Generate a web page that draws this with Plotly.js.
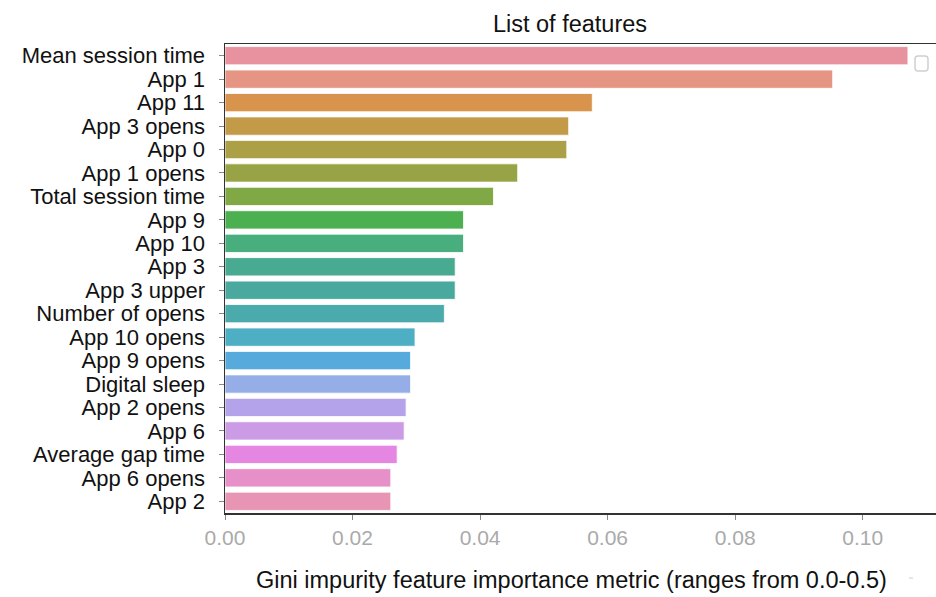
<!DOCTYPE html>
<html>
<head>
<meta charset="utf-8">
<script src="https://cdn.plot.ly/plotly-3.0.1.min.js"></script>
<style>
  html, body { margin: 0; padding: 0; background: #ffffff; }
  #chart { width: 936px; height: 597px; }
</style>
</head>
<body>
<div id="chart"></div>
<script>
const features = [
  "Mean session time", "App 1", "App 11", "App 3 opens", "App 0",
  "App 1 opens", "Total session time", "App 9", "App 10", "App 3",
  "App 3 upper", "Number of opens", "App 10 opens", "App 9 opens", "Digital sleep",
  "App 2 opens", "App 6", "Average gap time", "App 6 opens", "App 2"
];
const importance = [
  0.1071, 0.0953, 0.0576, 0.0539, 0.0536,
  0.0459, 0.0421, 0.0374, 0.0374, 0.0361,
  0.0361, 0.0344, 0.0298, 0.0291, 0.0291,
  0.0284, 0.0281, 0.0270, 0.0260, 0.0260
];
const barColors = [
  "#e8929f", "#e69584", "#d8944c", "#c29a48", "#aca046",
  "#97a345", "#80a844", "#4cb050", "#49ae7e", "#48aa91",
  "#4aa99e", "#4baaab", "#4eaec4", "#57abdc", "#95aee8",
  "#b4a3ea", "#cb9be5", "#e587e2", "#e68fc8", "#e894b5"
];
const titleText = "List of features";
const xTitleText = "Gini impurity feature importance metric (ranges from 0.0-0.5)";
const xTicks = [0.00, 0.02, 0.04, 0.06, 0.08, 0.10];
const xTickText = ["0.00", "0.02", "0.04", "0.06", "0.08", "0.10"];

const W = 936, H = 597;
const font = "Liberation Sans, Arial, Helvetica, sans-serif";

const trace = {
  type: "bar",
  orientation: "h",
  x: importance,
  y: features,
  marker: { color: barColors, line: { color: "rgba(255,255,255,0.8)", width: 1 } },
  hoverinfo: "x+y",
  showlegend: false
};

const pw = W - 225, ph = 513 - 44;
const px = v => (v - 225) / pw;
const py = v => (513 - v) / ph;

const layout = {
  width: W, height: H,
  paper_bgcolor: "#ffffff",
  plot_bgcolor: "#ffffff",
  margin: { l: 225, r: 0, t: 44, b: 84, pad: 0 },
  bargap: 0.22,
  font: { family: font, color: "#111111" },
  showlegend: false,
  xaxis: {
    range: [0, 0.1115],
    tickmode: "array",
    tickvals: xTicks,
    ticktext: xTickText,
    ticks: "outside",
    ticklen: 5,
    tickwidth: 1,
    tickcolor: "#888888",
    tickfont: { family: font, size: 21, color: "#aaaaaa" },
    showgrid: false,
    zeroline: false,
    showline: true,
    linecolor: "#333333",
    linewidth: 1.5,
    mirror: true,
    fixedrange: true
  },
  yaxis: {
    autorange: "reversed",
    tickmode: "array",
    tickvals: features,
    ticktext: features,
    ticks: "outside",
    ticklen: 5,
    tickwidth: 1,
    tickcolor: "#888888",
    ticklabelstandoff: 9,
    tickfont: { family: font, size: 22, color: "#111111" },
    showgrid: false,
    zeroline: false,
    showline: true,
    linecolor: "#333333",
    linewidth: 1.5,
    mirror: false,
    fixedrange: true
  },
  title: {
    text: titleText,
    font: { family: font, size: 23.5, color: "#111111" },
    x: 570 / W, xref: "container", xanchor: "center",
    y: 1 - 24 / H, yref: "container", yanchor: "middle"
  },
  annotations: [
    {
      text: xTitleText,
      xref: "paper", yref: "paper",
      x: px(571),
      y: py(580),
      xanchor: "center", yanchor: "middle",
      showarrow: false,
      font: { family: font, size: 23.5, color: "#111111" }
    }
  ],
  shapes: [
    {
      type: "path", xref: "paper", yref: "paper",
      path: (function () {
        const x0 = 915, x1 = 928, y0 = 56, y1 = 71, r = 3;
        return "M" + px(x0 + r) + "," + py(y0) +
          " L" + px(x1 - r) + "," + py(y0) +
          " Q" + px(x1) + "," + py(y0) + " " + px(x1) + "," + py(y0 + r) +
          " L" + px(x1) + "," + py(y1 - r) +
          " Q" + px(x1) + "," + py(y1) + " " + px(x1 - r) + "," + py(y1) +
          " L" + px(x0 + r) + "," + py(y1) +
          " Q" + px(x0) + "," + py(y1) + " " + px(x0) + "," + py(y1 - r) +
          " L" + px(x0) + "," + py(y0 + r) +
          " Q" + px(x0) + "," + py(y0) + " " + px(x0 + r) + "," + py(y0) + " Z";
      })(),
      line: { color: "#d0d0d0", width: 1.5 },
      fillcolor: "rgba(255,255,255,0)"
    },
    {
      type: "line", xref: "paper", yref: "paper",
      x0: px(909), x1: px(913), y0: py(578), y1: py(578),
      line: { color: "#cccccc", width: 1 }
    }
  ]
};

Plotly.newPlot("chart", [trace], layout, { displayModeBar: false, staticPlot: true });
</script>
</body>
</html>
